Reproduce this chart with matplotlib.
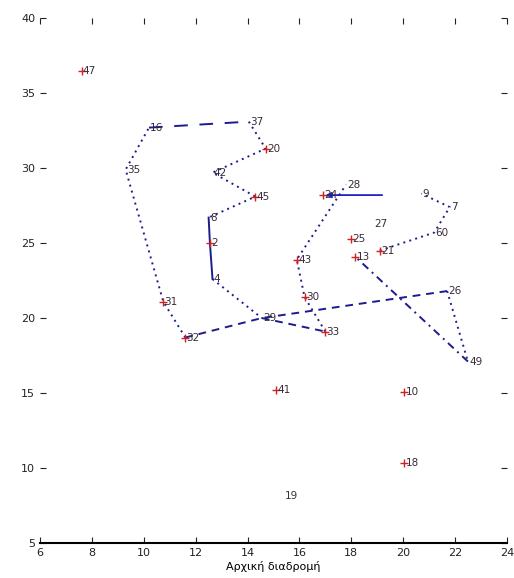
import matplotlib
matplotlib.use("Agg")
import matplotlib.pyplot as plt

# ---- data ----
labels = ["47", "16", "37", "20", "35", "42", "45", "8", "2", "4", "31", "32",
          "29", "43", "30", "33", "28", "24", "27", "25", "13", "21", "9", "7",
          "60", "26", "49", "41", "10", "18", "19"]
xs = [7.6, 10.2, 14.05, 14.7, 9.3, 12.65, 14.3, 12.5, 12.55, 12.65, 10.75, 11.6,
      14.55, 15.9, 16.2, 17.0, 17.8, 16.9, 18.85, 18.0, 18.15, 19.1, 20.7, 21.8,
      21.2, 21.7, 22.5, 15.1, 20.05, 20.05, 15.4]
ys = [36.5, 32.7, 33.1, 31.3, 29.9, 29.7, 28.1, 26.7, 25.0, 22.6, 21.1, 18.7,
      20.0, 23.9, 21.4, 19.1, 28.9, 28.2, 26.3, 25.3, 24.1, 24.5, 28.3, 27.4,
      25.7, 21.8, 17.1, 15.2, 15.1, 10.3, 8.1]
marked = ["47", "31", "2", "43", "25", "13", "41", "10", "18", "24", "21",
          "45", "20", "30", "33", "32"]

DOT = (0, (1, 2.2))
routes = [
    (["32", "31", "35", "16"], DOT),
    (["16", "37"], (0, (7, 6))),
    (["37", "20", "42", "45", "8"], DOT),
    (["8", "2", "4"], "-"),
    (["4", "29"], DOT),
    (["32", "29", "26"], (0, (4, 3))),
    (["29", "33"], (0, (4, 3))),
    (["33", "30", "43", "28"], DOT),
    (["26", "49"], DOT),
    (["49", "13"], (0, (4, 2.5, 1, 2.5))),
    (["21", "60", "7", "9"], DOT),
]

arrow_start = (19.3, 28.2)
arrow_end = (16.9, 28.2)

x_ticks = [6, 8, 10, 12, 14, 16, 18, 20, 22, 24]
y_ticks = [5, 10, 15, 20, 25, 30, 35, 40]
xlabel = "Αρχική διαδρομή"

# ---- plot ----
fig = plt.figure(figsize=(5.14, 5.78), dpi=100)
ax = fig.add_axes([0.078, 0.0606, 0.908, 0.908])
pos = {l: (x, y) for l, x, y in zip(labels, xs, ys)}

line_color = "#1c1c8c"
for names, ls in routes:
    rx = [pos[n][0] for n in names]
    ry = [pos[n][1] for n in names]
    ax.plot(rx, ry, linestyle=ls, color=line_color, linewidth=1.4)

ax.annotate("", xy=arrow_end, xytext=arrow_start,
            arrowprops=dict(arrowstyle="-|>", color="#2020c8", lw=1.3,
                            mutation_scale=8))

mx = [pos[n][0] for n in marked]
my = [pos[n][1] for n in marked]
ax.plot(mx, my, "+", color="#d02020", markersize=6, markeredgewidth=1)

for l, x, y in zip(labels, xs, ys):
    ax.text(x + 0.05, y, l, fontsize=7.5, color="#3a2a3a", ha="left", va="center")

ax.set_xlim(6, 24)
ax.set_ylim(5, 40)
ax.set_xticks(x_ticks)
ax.set_yticks(y_ticks)
ax.tick_params(direction="in", top=True, right=True, labelsize=8, length=4,
               colors="#222222")
for s in ["left", "top", "right"]:
    ax.spines[s].set_visible(False)
ax.spines["bottom"].set_linewidth(1.5)
ax.set_xlabel(xlabel, fontsize=8, labelpad=2)

fig.savefig("out.png", dpi=100)
